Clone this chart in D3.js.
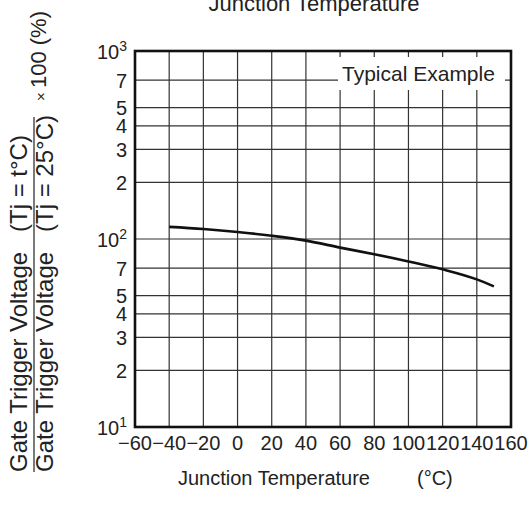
<!DOCTYPE html>
<html>
<head>
<meta charset="utf-8">
<script src="https://cdn.jsdelivr.net/npm/d3@7"></script>
<style>
  body { margin: 0; background: #fff; }
  svg { display: block; font-family: "Liberation Sans", Arial, sans-serif; }
</style>
</head>
<body>
<div id="chart"></div>
<script>
const temps  = [-40, -20, 0, 20, 40, 60, 80, 100, 120, 140, 150];
const ratios = [116, 113, 109, 104, 98, 90, 83, 76, 69, 61, 56];

const xTicks = [-60, -40, -20, 0, 20, 40, 60, 80, 100, 120, 140, 160];
const yMantissas = [1, 2, 3, 4, 5, 7];
const yDecades = [10, 100, 1000];

const width = 529;
const height = 510;
const margin = {top: 51, right: 18, bottom: 83, left: 135};

const svg = d3.select("#chart")
    .append("svg")
    .attr("width", width)
    .attr("height", height);

const x = d3.scaleLinear()
    .domain([-60, 160])
    .range([margin.left, width - margin.right]);

const y = d3.scaleLog()
    .domain([10, 1000])
    .range([height - margin.bottom, margin.top]);

// grid values: 1,2,3,4,5,7 of each decade, plus top
const yGrid = [];
yDecades.forEach(dec => {
    if (dec === 1000) { yGrid.push(1000); return; }
    yMantissas.forEach(m => yGrid.push(m * dec));
});

const grid = svg.append("g");

grid.selectAll(".vgrid")
    .data(xTicks)
    .join("line")
    .attr("x1", d => x(d))
    .attr("x2", d => x(d))
    .attr("y1", y(1000))
    .attr("y2", y(10))
    .attr("stroke", "#333")
    .attr("stroke-width", 1.2);

grid.selectAll(".hgrid")
    .data(yGrid)
    .join("line")
    .attr("x1", x(-60))
    .attr("x2", x(160))
    .attr("y1", d => y(d))
    .attr("y2", d => y(d))
    .attr("stroke", "#333")
    .attr("stroke-width", 1.2);

// legend label with white backing, sits over the grid
svg.append("rect")
    .attr("x", 338)
    .attr("y", 57)
    .attr("width", 167)
    .attr("height", 33)
    .attr("fill", "#fff");

svg.append("text")
    .attr("x", 342)
    .attr("y", 81)
    .attr("font-size", 21)
    .attr("fill", "#222")
    .text("Typical Example");

// the curve
const line = d3.line()
    .x((d, i) => x(temps[i]))
    .y(d => y(d))
    .curve(d3.curveMonotoneX);

svg.append("path")
    .attr("d", line(ratios))
    .attr("fill", "none")
    .attr("stroke", "#111")
    .attr("stroke-width", 2.6);

// frame
svg.append("rect")
    .attr("x", x(-60))
    .attr("y", y(1000))
    .attr("width", x(160) - x(-60))
    .attr("height", y(10) - y(1000))
    .attr("fill", "none")
    .attr("stroke", "#111")
    .attr("stroke-width", 2.6);

// x tick labels
svg.selectAll(".xlab")
    .data(xTicks)
    .join("text")
    .attr("x", d => x(d))
    .attr("y", 450)
    .attr("text-anchor", "middle")
    .attr("font-size", 20)
    .attr("fill", "#222")
    .text(d => d < 0 ? "\u2212" + Math.abs(d) : d);

// y tick labels
const yLabels = [];
yDecades.forEach(dec => {
    yMantissas.forEach(m => {
        if (dec === 1000 && m > 1) return;
        yLabels.push(m * dec);
    });
});

const yl = svg.selectAll(".ylab")
    .data(yLabels)
    .join("text")
    .attr("x", 127)
    .attr("y", d => y(d) + 7.5)
    .attr("text-anchor", "end")
    .attr("font-size", 20)
    .attr("fill", "#222");

yl.each(function(d) {
    const t = d3.select(this);
    const e = Math.log10(d);
    if (Number.isInteger(e)) {
        t.append("tspan").text("10");
        t.append("tspan").attr("font-size", 14).attr("dy", -8).text(e);
    } else {
        t.text(Math.round(d / Math.pow(10, Math.floor(e))));
    }
});

// titles
svg.append("text")
    .attr("x", 314)
    .attr("y", 11)
    .attr("text-anchor", "middle")
    .attr("font-size", 22)
    .attr("fill", "#222")
    .text("Junction Temperature");

svg.append("text")
    .attr("x", 178)
    .attr("y", 485)
    .attr("font-size", 20)
    .attr("fill", "#222")
    .text("Junction Temperature");

svg.append("text")
    .attr("x", 417)
    .attr("y", 485)
    .attr("font-size", 20)
    .attr("fill", "#222")
    .text("(°C)");

// y label as a fraction, rotated
const yTitle = svg.append("g")
    .attr("font-size", 24)
    .attr("fill", "#222");

const fracLines = [
    {base: 27, tail: "(Tj = t°C)"},
    {base: 53, tail: "(Tj = 25°C)"}
];

fracLines.forEach(f => {
    yTitle.append("text")
        .attr("transform", `translate(${f.base},472) rotate(-90)`)
        .text("Gate Trigger Voltage");
    yTitle.append("text")
        .attr("transform", `translate(${f.base},232) rotate(-90)`)
        .text(f.tail);
});

svg.append("line")
    .attr("x1", 34)
    .attr("x2", 34)
    .attr("y1", 472)
    .attr("y2", 117)
    .attr("stroke", "#222")
    .attr("stroke-width", 1.2);

const pct = svg.append("text")
    .attr("transform", "translate(46,101) rotate(-90)")
    .attr("font-size", 22)
    .attr("fill", "#222");
pct.append("tspan").attr("font-size", 15).text("\u00d7 ");
pct.append("tspan").text("100 (%)");
</script>
</body>
</html>
